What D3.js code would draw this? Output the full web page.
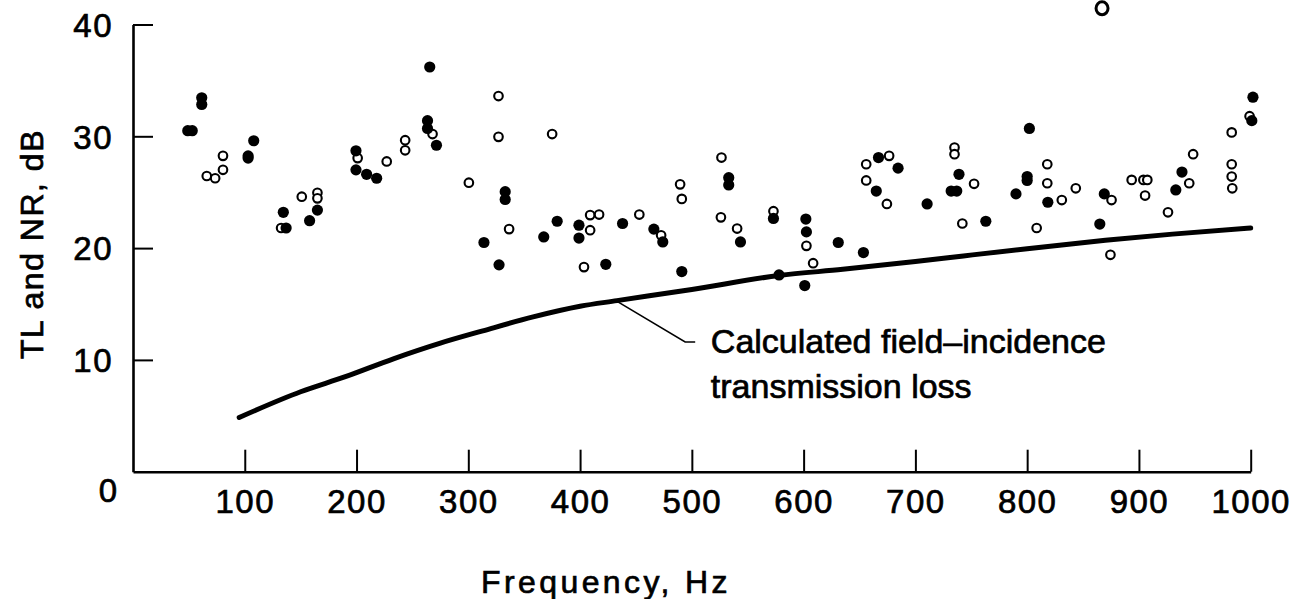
<!DOCTYPE html>
<html>
<head>
<meta charset="utf-8">
<script src="https://cdn.jsdelivr.net/npm/d3@7"></script>
<style>
  html, body { margin: 0; padding: 0; background: #fff; }
  svg { display: block; font-family: "Liberation Sans", Arial, Helvetica, sans-serif; }
  svg text { fill: #000; stroke: #000; stroke-width: 0.7px; }
</style>
</head>
<body>
<svg id="chart" width="1301" height="599"></svg>
<script>
// tick values
const xTicks = [100, 200, 300, 400, 500, 600, 700, 800, 900, 1000];
const yTicks = [10, 20, 30, 40];

// calculated field-incidence TL curve [Hz, dB]
const curveFreq = [95, 150, 190, 233, 275, 313, 358, 400, 433, 500, 578, 635, 700, 743, 800, 870, 930, 1000];
const curveTL   = [4.85, 7.15, 8.5, 10.1, 11.5, 12.6, 13.85, 14.8, 15.3, 16.3, 17.55, 18.1, 18.8, 19.3, 19.95, 20.7, 21.25, 21.8];

// measured points, filled symbols [Hz, dB]
const filledPts = [
  [49, 30.5], [53, 30.5], [61.5, 33.45], [61.5, 32.85], [103, 28.25], [103, 28.05], [108, 29.6],
  [134.5, 23.2], [137, 21.8], [158, 22.45], [165, 23.4], [199.5, 28.7], [199.5, 27.0],
  [209, 26.6], [218, 26.25], [265.5, 36.2], [263.5, 31.4], [263.5, 30.7], [271.5, 29.2],
  [333, 25.05], [333, 24.35], [314, 20.5], [327.5, 18.5], [367.5, 21.0], [379.5, 22.4],
  [399, 22.05], [399, 20.9], [423, 18.55], [438, 22.2], [466, 21.7], [474, 20.55],
  [491, 17.9], [533, 26.3], [533, 25.65], [543.5, 20.55], [573, 22.65], [578, 17.6],
  [602, 22.6], [602.5, 21.45], [601, 16.65], [631, 20.5], [653.5, 19.6], [667, 28.1],
  [665, 25.1], [684.5, 27.15], [710.5, 23.95], [739, 26.6], [732, 25.1], [737, 25.1],
  [763, 22.4], [790, 24.85], [802, 30.7], [800, 26.4], [800, 26.05], [818.5, 24.1],
  [865, 22.15], [869, 24.85], [933, 25.2], [938.5, 26.8], [1002, 33.5], [1001, 31.4]
];

// measured points, open symbols [Hz, dB]
const openPts = [
  [66, 26.45], [73.5, 26.25], [80.5, 27.0], [80.5, 28.25], [132.5, 21.8], [151, 24.6],
  [165, 24.95], [165, 24.45], [201, 28.05], [227, 27.75], [243.5, 29.65], [243.5, 28.75],
  [268, 30.2], [327, 33.6], [327, 29.95], [375, 30.2], [300.5, 25.85], [336.5, 21.7],
  [409, 22.95], [417, 23.0], [409, 21.6], [403.5, 18.3], [453, 23.0], [472.5, 21.15],
  [489.5, 25.7], [491, 24.4], [526.5, 28.1], [526, 22.75], [540.5, 21.75], [573, 23.3],
  [602.5, 20.2], [608.5, 18.65], [656, 27.5], [656, 26.05], [676.5, 28.25], [674.5, 23.95],
  [735, 29.0], [735, 28.4], [752.5, 25.75], [742, 22.2], [818, 27.5], [818, 25.8],
  [831, 24.3], [808.5, 21.8], [843.5, 25.35], [875.5, 24.3], [874.5, 19.4], [893.5, 26.1],
  [904, 26.1], [907.5, 26.1], [905.5, 24.7], [926, 23.2], [945, 25.8], [948.5, 28.4],
  [983, 30.35], [983, 27.5], [983, 26.4], [983.5, 25.35], [999, 31.8]
];

// open point above the 40 dB frame
const openOffScale = [[867, 41.45]];

// annotation text and leader (data units)
const noteLines = ["Calculated field\u2013incidence", "transmission loss"];
const leaderPts = [[432, 15.3], [494, 11.6], [503, 11.6]];
const noteAnchor = [517, 10.6];

const svg = d3.select("#chart");

const x = d3.scaleLinear().domain([0, 1000]).range([133, 1250.7]);
const y = d3.scaleLinear().domain([0, 40]).range([471.7, 24.5]);

// x axis - ticks point up into the plot
const gx = svg.append("g")
  .attr("transform", "translate(0," + y(0) + ")")
  .call(d3.axisBottom(x).tickValues(xTicks).tickFormat(d3.format("d"))
    .tickSizeInner(-22).tickSizeOuter(0).tickPadding(18));
gx.attr("font-family", null).attr("font-size", null);
gx.select(".domain").attr("stroke", "#000").attr("stroke-width", 2.6);
gx.selectAll(".tick line").attr("stroke", "#000").attr("stroke-width", 2);
gx.selectAll(".tick text")
  .style("font-size", "33px")
  .style("letter-spacing", "1.5px");

// y axis - ticks point right
const gy = svg.append("g")
  .attr("transform", "translate(" + x(0) + ",0)")
  .call(d3.axisLeft(y).tickValues(yTicks).tickFormat(d3.format("d"))
    .tickSizeInner(-20).tickSizeOuter(0).tickPadding(20));
gy.attr("font-family", null).attr("font-size", null);
gy.select(".domain").attr("stroke", "#000").attr("stroke-width", 2.6);
gy.selectAll(".tick line").attr("stroke", "#000").attr("stroke-width", 2);
gy.selectAll(".tick text")
  .attr("dy", "0.36em")
  .style("font-size", "33px")
  .style("letter-spacing", "1.5px");

// the lone "0" sits below the corner
svg.append("text")
  .attr("x", x(0) - 16)
  .attr("y", y(0) + 30)
  .attr("text-anchor", "end")
  .style("font-size", "33px")
  .text("0");

// axis titles
svg.append("text")
  .attr("transform", "translate(43,244) rotate(-90)")
  .attr("text-anchor", "middle")
  .style("font-size", "32px")
  .style("letter-spacing", "1.5px")
  .text("TL and NR, dB");

svg.append("text")
  .attr("x", 606)
  .attr("y", 593)
  .attr("text-anchor", "middle")
  .style("font-size", "32px")
  .style("letter-spacing", "3.4px")
  .text("Frequency, Hz");

// calculated curve
const line = d3.line()
  .x(d => x(d[0]))
  .y(d => y(d[1]))
  .curve(d3.curveMonotoneX);

svg.append("path")
  .datum(curveFreq.map((f, i) => [f, curveTL[i]]))
  .attr("d", line)
  .attr("fill", "none")
  .attr("stroke", "#000")
  .attr("stroke-width", 5)
  .attr("stroke-linecap", "round");

// leader line + label
svg.append("path")
  .datum(leaderPts)
  .attr("d", d3.line().x(d => x(d[0])).y(d => y(d[1])))
  .attr("fill", "none")
  .attr("stroke", "#000")
  .attr("stroke-width", 1.6);

svg.append("g")
  .selectAll("text")
  .data(noteLines)
  .join("text")
  .attr("x", x(noteAnchor[0]))
  .attr("y", (d, i) => y(noteAnchor[1]) + i * 45)
  .style("font-size", "34px")
  .text(d => d);

// open symbols
svg.append("g")
  .selectAll("circle")
  .data(openPts)
  .join("circle")
  .attr("cx", d => x(d[0]))
  .attr("cy", d => y(d[1]))
  .attr("r", 4.3)
  .attr("fill", "#fff")
  .attr("stroke", "#000")
  .attr("stroke-width", 2.1);

svg.append("g")
  .selectAll("ellipse")
  .data(openOffScale)
  .join("ellipse")
  .attr("cx", d => x(d[0]))
  .attr("cy", d => y(d[1]))
  .attr("rx", 6)
  .attr("ry", 6.5)
  .attr("fill", "#fff")
  .attr("stroke", "#000")
  .attr("stroke-width", 3);

// filled symbols
svg.append("g")
  .selectAll("circle")
  .data(filledPts)
  .join("circle")
  .attr("cx", d => x(d[0]))
  .attr("cy", d => y(d[1]))
  .attr("r", 5.6)
  .attr("fill", "#000");
</script>
</body>
</html>
